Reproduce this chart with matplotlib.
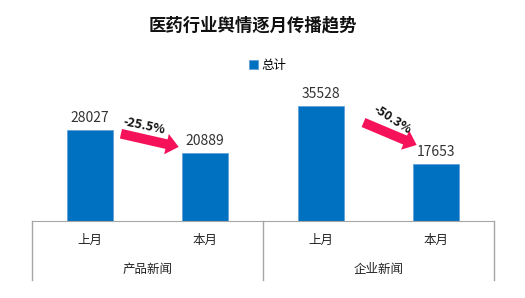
import matplotlib
matplotlib.use("Agg")
import matplotlib.pyplot as plt
from matplotlib.lines import Line2D

plt.rcParams['font.family'] = ['Noto Sans CJK SC', 'DejaVu Sans']

# data
months = ['上月', '本月', '上月', '本月']
groups = ['产品新闻', '企业新闻']
values = [28027, 20889, 35528, 17653]
changes = ['-25.5%', '-50.3%']

bar_color = '#0070C0'
arrow_color = '#F5125A'
line_color = '#A6A6A6'

fig = plt.figure(figsize=(5.25, 2.98), dpi=100)
ax = fig.add_axes([32 / 525, 77 / 298, 462 / 525, 130 / 298])

x = list(range(len(values)))
ax.bar(x, values, width=0.4, color=bar_color, edgecolor='#5B9BD5', linewidth=0.5,
       label='总计')
for xi, v in zip(x, values):
    ax.text(xi, v + 1500, str(v), ha='center', va='bottom', fontsize=10, color='#333333')

ax.set_xlim(-0.5, 3.5)
ax.set_ylim(0, 40000)
ax.set_yticks([])
ax.set_xticks(x)
ax.set_xticklabels(months, fontsize=9, color='#222222')
ax.tick_params(axis='x', length=0, pad=9)
for s in ['top', 'right', 'left']:
    ax.spines[s].set_visible(False)
ax.spines['bottom'].set_color(line_color)

# group separators and labels
for gx in [0, 0.5, 1]:
    ax.add_line(Line2D([gx, gx], [0, -59 / 130], transform=ax.transAxes,
                       color=line_color, lw=1, clip_on=False))
for i, g in enumerate(groups):
    ax.text(0.25 + 0.5 * i, -49 / 130, g, transform=ax.transAxes,
            ha='center', va='center', fontsize=9, color='#222222')

# change arrows
arrows = [((0.27, 26850), (0.77, 22800)), ((2.37, 30300), (2.83, 23400))]
texts = [((0.47, 29100), -12), ((2.62, 31300), -33)]
for (start, end), (pos, rot), lab in zip(arrows, texts, changes):
    ax.annotate('', xy=end, xytext=start,
                arrowprops=dict(arrowstyle='simple,head_length=0.9,head_width=1.5,tail_width=0.7',
                                color=arrow_color, lw=0, shrinkA=0, shrinkB=0))
    ax.text(pos[0], pos[1], lab, rotation=rot, ha='center', va='center',
            fontsize=9, fontweight='bold', color='#111111')

fig.text(253 / 525, 1 - 25 / 298, '医药行业舆情逐月传播趋势', ha='center', va='center',
         fontsize=12.5, fontweight='bold', color='#111111')
fig.legend(loc='center', bbox_to_anchor=(268 / 525, 1 - 65 / 298), frameon=False,
           fontsize=9, handlelength=0.7, handleheight=0.7, handletextpad=0.3)

fig.savefig('out.png', dpi=100)
